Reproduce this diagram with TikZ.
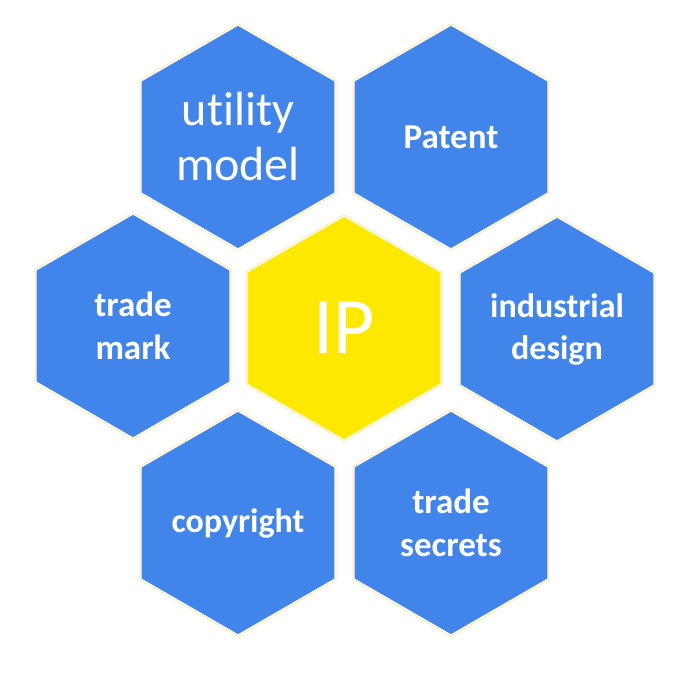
\documentclass[tikz,border=0pt]{standalone}
\usepackage{fontspec}
\setmainfont[Ligatures={NoCommon}]{Carlito}
\usetikzlibrary{shapes.geometric}
\definecolor{hexblue}{HTML}{4184EA}
\definecolor{hexyellow}{HTML}{FFE800}
\definecolor{rimyellow}{HTML}{FFE38A}
\tikzset{
  hexcell/.style={regular polygon, regular polygon sides=6, shape border rotate=30,
    minimum size=224pt, inner sep=0pt, outer sep=0pt,
    preaction={draw=rimyellow, line width=2.6pt},
    draw=white, line width=1.3pt,
    text=white, align=center},
  bluecell/.style={hexcell, fill=hexblue},
  ipcell/.style={hexcell, fill=hexyellow},
  boldlabel/.style={font=\bfseries\fontsize{35}{43}\selectfont}
}
\begin{document}
\begin{tikzpicture}[x=1pt, y=-1pt]
\fill[white] (0,0) rectangle (686,676);
\useasboundingbox (0,0) rectangle (686,676);
\node[bluecell, font=\fontsize{48}{55}\selectfont] (utility) at (238,137) {utility\\model};
\node[bluecell, boldlabel] (patent) at (451,137) {Patent};
\node[bluecell, boldlabel] (trademark) at (133,326) {trade\\mark};
\node[ipcell, font=\fontsize{80}{90}\selectfont] (ip) at (344,328) {IP};
\node[bluecell, boldlabel, font=\bfseries\fontsize{34}{42}\selectfont] (design) at (557,329) {industrial\\design};
\node[bluecell, boldlabel, font=\bfseries\fontsize{34}{42}\selectfont] (copyright) at (238,523) {copyright};
\node[bluecell, boldlabel] (secrets) at (451,523) {trade\\secrets};
\end{tikzpicture}
\end{document}
